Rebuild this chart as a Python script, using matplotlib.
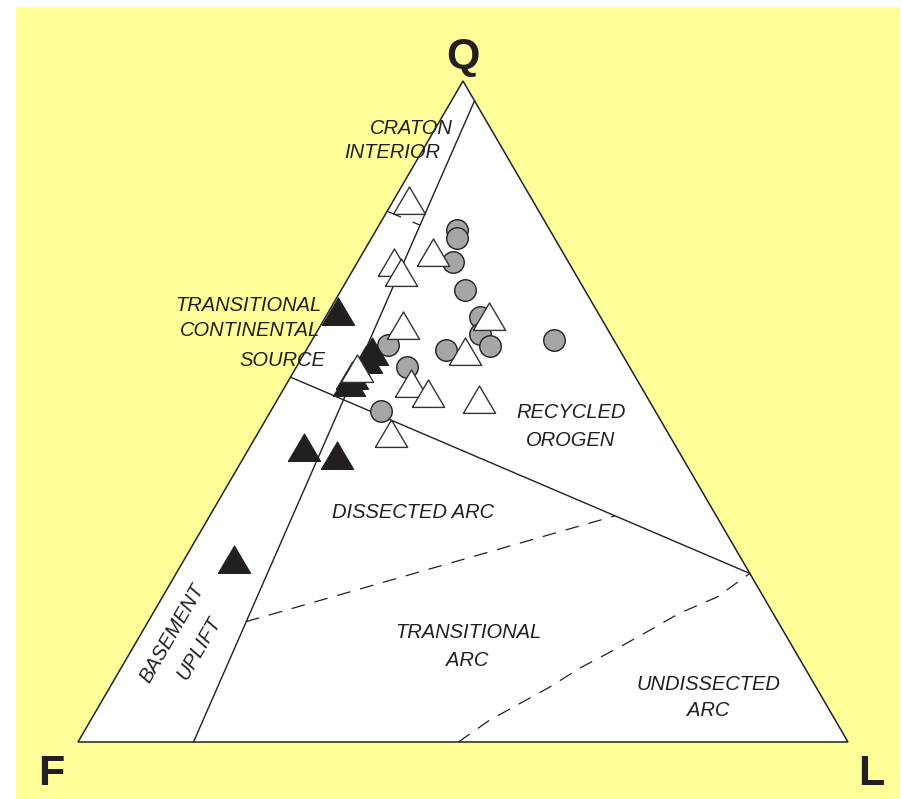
import matplotlib
matplotlib.use("Agg")
import matplotlib.pyplot as plt
import numpy as np

# QFL compositions (percent Q, percent L; F = 100 - Q - L)
circle_q = [77.4, 76.2, 72.6, 68.4, 64.3, 61.8, 59.9, 59.3, 60.0, 56.7, 60.8, 50.1]
circle_l = [10.5, 11.1, 12.4, 16.0, 20.0, 21.3, 23.6, 18.2, 10.3, 14.4, 31.4, 14.3]

black_q = [65.1, 59.0, 57.8, 55.4, 54.3, 44.5, 43.3, 27.6]
black_l = [1.2, 8.7, 8.5, 7.9, 8.0, 7.1, 12.0, 6.4]

open_q = [81.8, 74.0, 72.5, 71.0, 62.9, 64.3, 59.0, 54.1, 52.6, 51.7, 46.6, 56.5]
open_l = [2.1, 9.1, 4.8, 6.5, 10.8, 21.2, 20.7, 16.2, 19.2, 26.2, 17.4, 8.0]

# field boundaries (Q, L)
continental_q = [97.0, 0.0]
continental_l = [3.0, 15.0]
craton_q = [80.3, 78.2]
craton_l = [0.0, 5.3]
orogen_q = [55.2, 25.5]
orogen_l = [0.0, 74.5]
dissected_q = [18.2, 34.2]
dissected_l = [12.7, 52.6]
undissected_q = [0.0, 3.3, 8.3, 11.2, 14.4, 16.9, 19.5, 21.9, 25.5]
undissected_l = [49.4, 51.8, 57.1, 59.6, 63.2, 65.8, 68.4, 72.0, 74.5]


def to_xy(q, l):
    q = np.asarray(q) / 100.0
    l = np.asarray(l) / 100.0
    return l + q / 2.0, q


W, H = 903, 799
fig = plt.figure(figsize=(W / 100, H / 100), dpi=100)
fig.patch.set_facecolor("white")

ax = fig.add_axes([0, 0, 1, 1])
ax.set_xlim(-78 / 770, 825 / 770)
ax.set_ylim(-57 / 661, 742 / 661)
ax.axis("off")
ax.add_patch(plt.Rectangle((16 / W, 0), 884 / W, 1 - 7 / H,
                           transform=fig.transFigure,
                           facecolor="#ffff99", edgecolor="none", zorder=0))

# triangle
ax.fill([0, 1, 0.5], [0, 0, 1], facecolor="white", edgecolor="#222222", lw=1.1, zorder=1)

ink = "#231f20"
x, y = to_xy(continental_q, continental_l)
ax.plot(x, y, color=ink, lw=1.0, zorder=2)
x, y = to_xy(orogen_q, orogen_l)
ax.plot(x, y, color=ink, lw=1.0, zorder=2)
x, y = to_xy(craton_q, craton_l)
ax.plot(x, y, color=ink, lw=0.9, dashes=(12, 10), zorder=2)
x, y = to_xy(dissected_q, dissected_l)
ax.plot(x, y, color=ink, lw=0.9, dashes=(11, 8), zorder=2)
x, y = to_xy(undissected_q, undissected_l)
ax.plot(x, y, color=ink, lw=0.9, dashes=(11, 8), zorder=2)

tri = [(-1, -0.8), (1, -0.8), (0, 0.9), (-1, -0.8)]

x, y = to_xy(circle_q, circle_l)
ax.scatter(x, y, s=240, marker="o", facecolor="#a6a6a6", edgecolor=ink, lw=1.0, zorder=3)
x, y = to_xy(black_q, black_l)
ax.scatter(x, y, s=540, marker=tri, facecolor=ink, edgecolor=ink, lw=0.8, zorder=4)
x, y = to_xy(open_q, open_l)
ax.scatter(x, y, s=540, marker=tri, facecolor="white", edgecolor="#333333", lw=1.0, zorder=5)

# labels
lab = dict(fontsize=14.5, style="italic", family="Liberation Sans", color=ink,
           ha="center", va="center", zorder=6)


def put(px, py, s, **kw):
    d = dict(lab)
    d.update(kw)
    fig.text(px / W, 1 - py / H, s, **d)


put(411, 128, "CRATON")
put(392, 153, "INTERIOR")
put(248, 305, "TRANSITIONAL")
put(250, 331, "CONTINENTAL")
put(282, 360, "SOURCE")
put(571, 413, "RECYCLED")
put(571, 441, "OROGEN")
put(413, 513, "DISSECTED ARC")
put(468, 632, "TRANSITIONAL")
put(467, 660, "ARC")
put(708, 684, "UNDISSECTED")
put(708, 710, "ARC")
put(172, 633, "BASEMENT", rotation=60)
put(199, 648, "UPLIFT", rotation=60)

vert = dict(fontsize=31, weight="bold", family="Liberation Sans", color=ink,
            ha="center", va="center")
fig.text(463 / W, 1 - 57 / H, "Q", **vert)
fig.text(51 / W, 1 - 774 / H, "F", **vert)
fig.text(871 / W, 1 - 774 / H, "L", **vert)

fig.savefig("out.png", dpi=100)
